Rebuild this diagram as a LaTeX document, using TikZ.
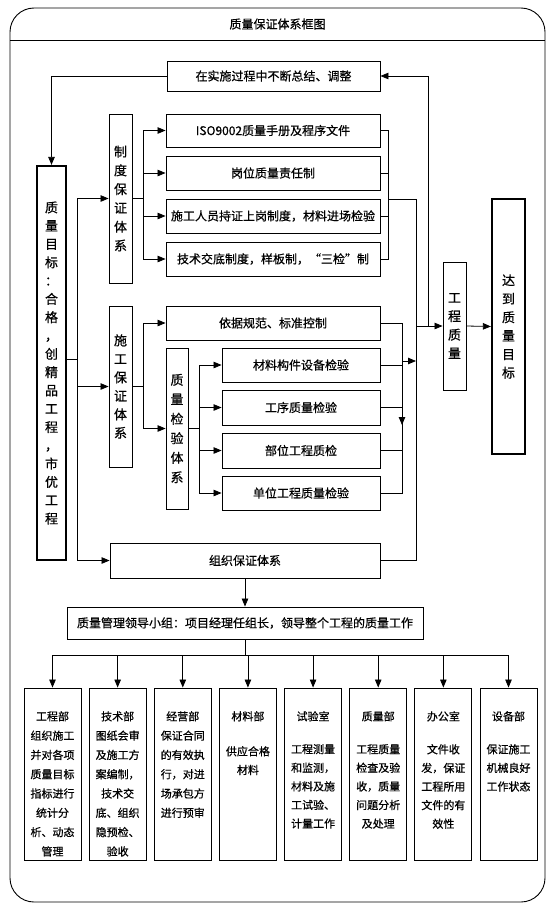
\documentclass[tikz,border=0pt]{standalone}
\usepackage{fontspec}
\setmainfont{Noto Sans CJK SC}[FakeBold=0.6]
\usetikzlibrary{arrows.meta}
\begin{document}
\begin{tikzpicture}[x=1pt,y=-1pt,
  box/.style={draw, line width=0.9pt, inner sep=0pt, align=center, font=\fontsize{12}{14}\selectfont},
  vbox/.style={box, font=\fontsize{13}{18.5}\selectfont},
  heavy/.style={line width=2.2pt},
  con/.style={line width=0.8pt},
  arw/.style={con, -{Triangle[length=8pt,width=6.5pt]}},
  btext/.style={inner sep=0pt, align=center, font=\fontsize{11}{19.3}\selectfont},
  bbody/.style={inner sep=0pt, align=center, font=\fontsize{11}{18.6}\selectfont},
]
\useasboundingbox (0,0) rectangle (554,910);
% outer frame
\draw[line width=0.9pt, rounded corners=24pt] (10,8) rectangle (545,902);
\draw[line width=0.9pt] (10,40) -- (545,40);
\node[inner sep=0pt, font=\fontsize{12}{14}\selectfont] (ttl) at (277.5,24) {质量保证体系框图};

% main boxes
\node[box, minimum width=213pt, minimum height=30pt] (T) at (273.5,76) {在实施过程中不断总结、调整};
\node[vbox, heavy, minimum width=29pt, minimum height=394pt, font=\fontsize{13}{18.3}\selectfont] (G) at (51.5,363)
  {质\\量\\目\\标\\：\\合\\格\\，\\创\\精\\品\\工\\程\\，\\市\\优\\工\\程};
\node[vbox, minimum width=23pt, minimum height=169pt, font=\fontsize{13}{18.8}\selectfont] (Z) at (120.5,198.5) {制\\度\\保\\证\\体\\系};
\node[box, minimum width=214pt, minimum height=33pt] (A1) at (273,130.5) {ISO9002质量手册及程序文件};
\node[box, minimum width=214pt, minimum height=34pt] (A2) at (273,173) {岗位质量责任制};
\node[box, minimum width=214pt, minimum height=34pt] (A3) at (273,216) {施工人员持证上岗制度，材料进场检验};
\node[box, minimum width=214pt, minimum height=34pt] (A4) at (273,259) {技术交底制度，样板制，“三检”制};

\node[vbox, minimum width=23pt, minimum height=161pt] (S) at (120.5,386.5) {施\\工\\保\\证\\体\\系};
\node[box, minimum width=214pt, minimum height=34pt] (N1) at (273,323) {依据规范、标准控制};
\node[vbox, minimum width=22pt, minimum height=161pt, font=\fontsize{13}{19.5}\selectfont] (K) at (177,428.5) {质\\量\\检\\验\\体\\系};
\node[box, minimum width=158pt, minimum height=34pt] (C1) at (301,365) {材料构件设备检验};
\node[box, minimum width=158pt, minimum height=35pt] (C2) at (301,407.5) {工序质量检验};
\node[box, minimum width=158pt, minimum height=35pt] (C3) at (301,450.5) {部位工程质检};
\node[box, minimum width=158pt, minimum height=34pt] (C4) at (301,493) {单位工程质量检验};

\node[vbox, minimum width=23pt, minimum height=128pt] (Q) at (454.5,326) {工\\程\\质\\量};
\node[vbox, heavy, minimum width=33pt, minimum height=255pt] (D) at (508.5,326.5) {达\\到\\质\\量\\目\\标};

\node[box, minimum width=270pt, minimum height=35pt] (O) at (245,560.5) {组织保证体系};
\node[box, minimum width=356pt, minimum height=32pt] (L) at (245,623) {质量管理领导小组：项目经理任组长，领导整个工程的质量工作};

% bottom boxes
\foreach \i in {1,...,8}
  \node[box, minimum width=57pt, minimum height=172pt] (b\i) at ({52.5+65.143*(\i-1)},774) {};

\node[btext, anchor=north] (t1) at (b1.north |- 0,711) {工程部\\组织施工\\并对各项\\质量目标\\指标进行\\统计分\\析、动态\\管理};
\node[btext, anchor=north] (t2) at (b2.north |- 0,711) {技术部\\图纸会审\\及施工方\\案编制，\\技术交\\底、组织\\隐预检、\\验收};
\node[btext, anchor=north] (t3) at (b3.north |- 0,711) {经营部\\保证合同\\的有效执\\行，对进\\场承包方\\进行预审};
\node[btext, anchor=north] (h4) at (b4.north |- 0,711) {材料部};
\node[bbody, anchor=north] (t4) at (b4.north |- 0,746) {供应合格\\材料};
\node[btext, anchor=north] (h5) at (b5.north |- 0,711) {试验室};
\node[bbody, anchor=north] (t5) at (b5.north |- 0,744) {工程测量\\和监测，\\材料及施\\工试验、\\计量工作};
\node[btext, anchor=north] (h6) at (b6.north |- 0,711) {质量部};
\node[bbody, anchor=north] (t6) at (b6.north |- 0,744) {工程质量\\检查及验\\收，质量\\问题分析\\及处理};
\node[btext, anchor=north] (h7) at (b7.north |- 0,711) {办公室};
\node[bbody, anchor=north] (t7) at (b7.north |- 0,744) {文件收\\发，保证\\工程所用\\文件的有\\效性};
\node[btext, anchor=north] (h8) at (b8.north |- 0,711) {设备部};
\node[bbody, anchor=north] (t8) at (b8.north |- 0,744) {保证施工\\机械良好\\工作状态};

% feedback to goal
\draw[arw] (T.west) -| (G.north);
% goal to three systems
\coordinate (gx) at (77,359);
\draw[con] (G.east |- gx) -- (gx);
\draw[arw] (gx) |- (Z.west);
\draw[arw] (gx) |- (S.west);
\draw[arw] (gx) |- (O.west);
% system of rules
\coordinate (zx) at (143,198.5);
\draw[con] (Z.east) -- (zx);
\foreach \n in {A1,A2,A3,A4} \draw[arw] (zx) |- (\n.west);
\coordinate (ax) at (388,199);
\draw[con] (A1.east) -| (ax);
\draw[con] (A4.east) -| (ax);
\draw[con] (A2.east) -- (A2.east -| ax);
\draw[con] (A3.east) -- (A3.east -| ax);
\coordinate (rx) at (416,199);
\draw[con] (ax) -- (rx) |- (O.east);
\draw[arw] (rx |- Q.west) -- (Q.west);
\coordinate (fx) at (428,326);
\draw[arw] (fx) |- (T.east);
\draw[arw] (Q.east) -- (D.west);
% construction system
\coordinate (sx) at (143,386.5);
\draw[con] (S.east) -- (sx);
\draw[arw] (sx) |- (N1.west);
\draw[arw] (sx) |- (K.west);
\coordinate (kx) at (199,428.5);
\draw[con] (K.east) -- (kx);
\foreach \n in {C1,C2,C3,C4} \draw[arw] (kx) |- (\n.west);
\coordinate (cx) at (402,361);
\draw[con] (N1.east) -| (cx);
\draw[con] (C4.east) -| (cx);
\foreach \n in {C1,C2,C3} \draw[con] (\n.east) -- (\n.east -| cx);
\draw[arw] (cx) -- (cx -| rx);
\coordinate (dn1) at (402,400);
\coordinate (dn2) at (402,425);
\draw[arw] (dn1) -- (dn2);
% organisation
\draw[arw] (O.south) -- (L.north);
\coordinate (bus) at (245,655);
\draw[con] (L.south) -- (bus);
\draw[con] (b1.north |- bus) -- (b8.north |- bus);
\foreach \i in {1,...,8} \draw[arw] (b\i.north |- bus) -- (b\i.north);
\end{tikzpicture}
\end{document}
